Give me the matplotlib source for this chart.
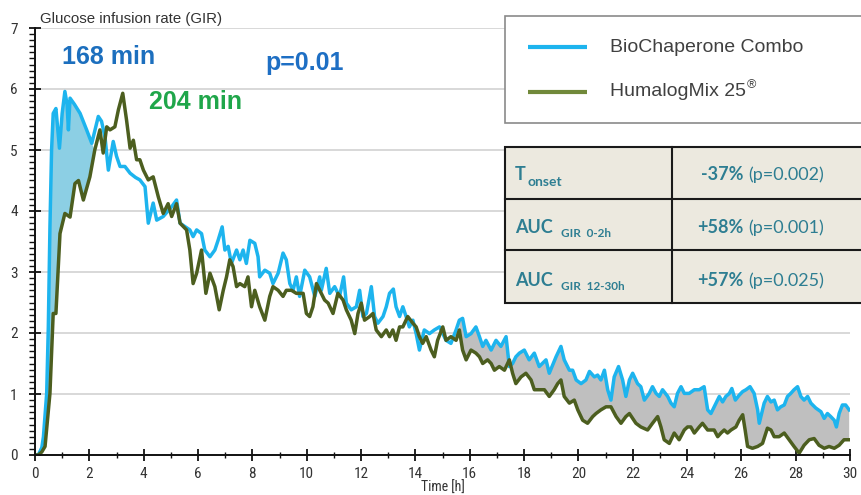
import matplotlib
matplotlib.use("Agg")
import matplotlib.pyplot as plt
from matplotlib.patches import Rectangle
from matplotlib.ticker import MultipleLocator
import numpy as np

# ---------------- data (time [h], GIR) ----------------
bio_points = [
    (0.00, 0.00), (0.12, 0.00), (0.25, 0.12), (0.31, 0.30), (0.43, 1.01), (0.49, 2.10), (0.55, 3.74), (0.61, 5.00), (0.67, 5.60), (0.77, 5.68),
    (0.90, 5.03), (1.00, 5.60), (1.10, 5.96), (1.18, 5.75), (1.23, 5.33), (1.29, 5.85), (1.45, 5.75), (1.66, 5.60), (1.90, 5.33), (2.09, 5.11),
    (2.33, 5.55), (2.45, 5.47), (2.58, 5.20), (2.70, 4.67), (2.88, 5.14), (3.00, 4.90), (3.13, 4.73), (3.31, 4.73), (3.50, 4.62), (3.70, 4.55),
    (3.86, 4.51), (4.05, 4.40), (4.17, 3.80), (4.35, 4.13), (4.48, 3.85), (4.72, 3.91), (5.03, 4.07), (5.21, 4.18), (5.34, 3.80), (5.50, 3.75),
    (5.70, 3.69), (5.82, 3.58), (5.95, 3.69), (6.13, 3.63), (6.25, 3.36), (6.44, 3.25), (6.62, 3.36), (6.74, 3.52), (6.89, 3.74), (6.99, 3.36),
    (7.11, 3.42), (7.23, 3.14), (7.42, 3.36), (7.54, 3.20), (7.66, 3.36), (7.78, 3.14), (7.91, 3.52), (8.09, 3.47), (8.21, 3.25), (8.27, 2.92),
    (8.46, 3.03), (8.64, 2.98), (8.76, 2.81), (8.95, 2.98), (9.13, 3.31), (9.25, 3.20), (9.38, 2.81), (9.50, 2.70), (9.62, 2.92), (9.74, 2.60),
    (9.93, 3.03), (10.11, 2.92), (10.30, 2.60), (10.48, 2.92), (10.54, 2.70), (10.72, 3.06), (10.85, 2.65), (11.03, 2.76), (11.21, 2.60), (11.36, 2.92),
    (11.46, 2.49), (11.64, 2.38), (11.83, 2.43), (11.95, 2.70), (12.07, 2.27), (12.20, 2.32), (12.38, 2.76), (12.50, 2.27), (12.62, 2.16), (12.81, 2.27),
    (12.93, 2.43), (13.05, 2.65), (13.19, 2.72), (13.29, 2.43), (13.42, 2.27), (13.54, 2.43), (13.66, 2.27), (13.78, 2.10), (13.91, 2.21), (14.03, 1.99),
    (14.15, 1.72), (14.33, 2.05), (14.52, 1.99), (14.70, 2.05), (14.89, 2.10), (15.01, 1.99), (15.13, 1.88), (15.31, 1.83), (15.50, 2.05), (15.62, 2.21),
    (15.74, 2.24), (15.87, 1.94), (16.05, 1.99), (16.23, 2.10), (16.36, 1.94), (16.48, 1.78), (16.60, 1.88), (16.79, 1.72), (16.97, 1.88), (17.15, 1.78),
    (17.34, 1.94), (17.46, 1.45), (17.58, 1.50), (17.70, 1.61), (17.83, 1.67), (18.01, 1.72), (18.19, 1.56), (18.38, 1.67), (18.56, 1.45), (18.81, 1.56),
    (18.93, 1.34), (19.18, 1.61), (19.36, 1.78), (19.48, 1.56), (19.67, 1.39), (19.79, 1.39), (19.92, 1.23), (20.10, 1.17), (20.28, 1.23), (20.41, 1.37),
    (20.59, 1.28), (20.71, 1.31), (20.83, 1.23), (20.96, 1.39), (21.08, 1.07), (21.20, 0.90), (21.32, 1.28), (21.48, 1.45), (21.63, 1.23), (21.75, 0.96),
    (21.88, 1.23), (22.00, 1.34), (22.18, 1.17), (22.30, 1.12), (22.43, 0.90), (22.61, 1.01), (22.73, 1.12), (22.86, 1.01), (22.98, 0.96), (23.10, 1.07),
    (23.29, 0.96), (23.41, 0.85), (23.53, 0.79), (23.65, 1.01), (23.78, 1.12), (23.90, 1.01), (24.08, 1.01), (24.27, 1.07), (24.45, 1.07), (24.63, 1.12),
    (24.76, 0.74), (24.88, 0.68), (25.07, 0.85), (25.19, 0.96), (25.31, 0.87), (25.43, 0.96), (25.56, 1.01), (25.65, 1.09), (25.78, 0.90), (25.92, 0.98),
    (26.05, 1.04), (26.17, 1.07), (26.32, 1.12), (26.47, 1.01), (26.60, 0.74), (26.66, 0.52), (26.84, 0.85), (26.96, 0.96), (27.09, 0.87), (27.21, 0.90),
    (27.33, 0.74), (27.45, 0.79), (27.58, 0.82), (27.70, 0.96), (27.82, 1.01), (27.94, 1.07), (28.07, 1.12), (28.19, 0.96), (28.31, 0.90), (28.44, 0.96),
    (28.56, 0.85), (28.74, 0.77), (28.93, 0.71), (29.05, 0.60), (29.17, 0.68), (29.29, 0.63), (29.42, 0.57), (29.50, 0.46), (29.60, 0.68), (29.72, 0.82),
    (29.84, 0.82), (29.97, 0.74),
]

hum_points = [
    (0.00, 0.00), (0.12, 0.00), (0.25, 0.05), (0.37, 0.14), (0.55, 1.01), (0.67, 2.32), (0.77, 2.32), (0.92, 3.63), (1.10, 3.96), (1.29, 3.90),
    (1.47, 4.45), (1.60, 4.50), (1.78, 4.18), (2.02, 4.56), (2.20, 5.00), (2.39, 5.33), (2.51, 4.95), (2.64, 5.38), (2.76, 5.33), (2.94, 5.38),
    (3.07, 5.66), (3.23, 5.93), (3.37, 5.49), (3.50, 5.03), (3.62, 5.16), (3.74, 4.84), (3.86, 4.84), (3.99, 4.67), (4.17, 4.51), (4.35, 4.56),
    (4.54, 4.23), (4.72, 3.96), (4.90, 4.12), (5.03, 3.91), (5.21, 4.12), (5.34, 3.80), (5.58, 3.69), (5.70, 3.36), (5.82, 2.81), (5.95, 2.98),
    (6.13, 3.36), (6.29, 2.65), (6.44, 2.98), (6.62, 2.76), (6.78, 2.38), (6.93, 2.70), (7.05, 2.92), (7.17, 3.20), (7.29, 3.09), (7.42, 2.76),
    (7.54, 2.81), (7.72, 2.76), (7.84, 2.92), (7.97, 2.43), (8.09, 2.70), (8.27, 2.43), (8.46, 2.21), (8.64, 2.60), (8.76, 2.76), (8.95, 2.70),
    (9.13, 2.60), (9.25, 2.70), (9.44, 2.70), (9.62, 2.65), (9.87, 2.65), (9.99, 2.32), (10.11, 2.27), (10.23, 2.43), (10.36, 2.81), (10.54, 2.65),
    (10.66, 2.54), (10.79, 2.49), (10.97, 2.32), (11.15, 2.65), (11.34, 2.54), (11.46, 2.38), (11.64, 2.21), (11.77, 1.99), (11.89, 2.32), (12.01, 2.49),
    (12.13, 2.21), (12.32, 2.27), (12.44, 2.32), (12.56, 2.05), (12.75, 1.94), (12.93, 2.05), (13.05, 1.94), (13.17, 2.05), (13.29, 1.88), (13.42, 2.10),
    (13.54, 2.10), (13.72, 2.27), (13.91, 2.16), (14.03, 2.10), (14.15, 1.94), (14.27, 1.83), (14.40, 1.94), (14.58, 1.72), (14.70, 1.61), (14.82, 1.88),
    (15.01, 2.10), (15.13, 1.88), (15.31, 1.94), (15.50, 1.88), (15.62, 2.05), (15.74, 1.72), (15.87, 1.56), (16.05, 1.72), (16.23, 1.67), (16.36, 1.61),
    (16.48, 1.50), (16.66, 1.56), (16.79, 1.50), (16.91, 1.39), (17.09, 1.45), (17.28, 1.39), (17.46, 1.56), (17.58, 1.34), (17.70, 1.17), (17.89, 1.28),
    (18.07, 1.34), (18.26, 1.23), (18.38, 1.07), (18.56, 1.07), (18.75, 1.07), (18.93, 0.96), (19.11, 1.07), (19.24, 1.17), (19.36, 1.23), (19.48, 0.96),
    (19.67, 0.85), (19.85, 0.90), (19.98, 0.74), (20.16, 0.57), (20.34, 0.52), (20.53, 0.63), (20.65, 0.68), (20.83, 0.74), (21.02, 0.79), (21.20, 0.79),
    (21.39, 0.63), (21.57, 0.52), (21.75, 0.63), (21.88, 0.68), (22.00, 0.60), (22.12, 0.52), (22.30, 0.46), (22.55, 0.41), (22.73, 0.52), (22.92, 0.63),
    (23.04, 0.46), (23.16, 0.25), (23.35, 0.19), (23.53, 0.36), (23.71, 0.25), (23.90, 0.41), (24.02, 0.46), (24.14, 0.46), (24.27, 0.36), (24.45, 0.46),
    (24.57, 0.52), (24.76, 0.41), (25.00, 0.41), (25.13, 0.30), (25.25, 0.36), (25.37, 0.41), (25.49, 0.36), (25.62, 0.41), (25.80, 0.46), (25.92, 0.57),
    (26.05, 0.66), (26.14, 0.41), (26.23, 0.14), (26.41, 0.11), (26.60, 0.14), (26.78, 0.19), (26.96, 0.44), (27.09, 0.41), (27.21, 0.30), (27.39, 0.30),
    (27.58, 0.36), (27.76, 0.25), (27.94, 0.14), (28.13, 0.03), (28.31, 0.16), (28.50, 0.25), (28.68, 0.27), (28.86, 0.16), (29.05, 0.11), (29.23, 0.14),
    (29.42, 0.11), (29.60, 0.16), (29.78, 0.25), (29.97, 0.25),
]

series_names = ["BioChaperone Combo", "HumalogMix 25"]
early_fill_range = (0.0, 2.3)    # BioChaperone > Humalog (blue shading)
late_fill_range = (15.6, 30.0)   # BioChaperone > Humalog (grey shading)
x_ticks = list(range(0, 31, 2))
y_ticks = list(range(0, 8))
table_rows = [("T", "onset", "-37%", "(p=0.002)"),
              ("AUC", "GIR  0-2h", "+58%", "(p=0.001)"),
              ("AUC", "GIR  12-30h", "+57%", "(p=0.025)")]

t_bio, g_bio = map(np.array, zip(*bio_points))
t_hum, g_hum = map(np.array, zip(*hum_points))

# ---------------- figure ----------------
W, H = 861, 495
fig = plt.figure(figsize=(W / 100, H / 100), dpi=100)
fig.patch.set_facecolor("white")
ax = fig.add_axes([35 / W, 1 - 455 / H, (850 - 35) / W, (455 - 28) / H])
ax.set_xlim(0, 30)
ax.set_ylim(0, 7)

BLUE = "#1db4ee"
GREEN = "#4c5e1f"

def band(lo, hi):
    mb = (t_bio >= lo) & (t_bio <= hi)
    mh = (t_hum >= lo) & (t_hum <= hi)
    xs = np.concatenate([t_bio[mb], t_hum[mh][::-1]])
    ys = np.concatenate([g_bio[mb], g_hum[mh][::-1]])
    return xs, ys

xs, ys = band(*early_fill_range)
ax.fill(xs, ys, color="#8ccfe4", lw=0, zorder=1)
xs, ys = band(*late_fill_range)
ax.fill(xs, ys, color="#bfbfbf", lw=0, zorder=1)

ax.plot(t_bio, g_bio, color=BLUE, lw=2.5, zorder=3, solid_joinstyle="round")
ax.plot(t_hum, g_hum, color=GREEN, lw=2.5, zorder=4, solid_joinstyle="round")

ax.yaxis.grid(True, color="#d2d2d2", lw=1.2)
ax.set_axisbelow(True)
for s in ("top", "right"):
    ax.spines[s].set_visible(False)
for s in ("left", "bottom"):
    ax.spines[s].set_linewidth(1.4)
    ax.spines[s].set_color("#111111")
    ax.spines[s].set_zorder(5)

ax.set_xticks(x_ticks)
ax.set_yticks(y_ticks)
ax.xaxis.set_minor_locator(MultipleLocator(1))
ax.yaxis.set_minor_locator(MultipleLocator(0.1))
tick_font = ["Liberation Sans Narrow", "Roboto Condensed", "Liberation Sans", "DejaVu Sans"]
ax.tick_params(which="major", direction="inout", length=9, width=1.3, colors="#111111",
               labelcolor="#333333", labelsize=11, pad=4)
ax.tick_params(axis="y", which="minor", direction="out", length=4, width=1.0, colors="#111111")
ax.tick_params(axis="x", which="minor", direction="inout", length=5, width=1.0, colors="#111111")
for lab in ax.get_xticklabels() + ax.get_yticklabels():
    lab.set_fontfamily(tick_font)
ax.tick_params(axis="y", pad=8)

# ---------------- overlay in pixel coordinates ----------------
ov = fig.add_axes([0, 0, 1, 1])
ov.set_xlim(0, W)
ov.set_ylim(H, 0)
ov.axis("off")

txt_font = ["Liberation Sans", "DejaVu Sans"]
ov.text(40, 19, "Glucose infusion rate (GIR)", fontsize=10.8, color="#333333",
        family=txt_font, va="center", ha="left")
ov.text(443, 488, "Time [h]", fontsize=10, color="#333333", family=tick_font,
        va="center", ha="center")

ov.text(62, 57, "168 min", fontsize=18, color="#1c6fbe", fontweight="bold",
        family=txt_font, va="center", ha="left")
ov.text(265, 63, "p=0.01", fontsize=18, color="#1e6fc4", fontweight="bold",
        family=txt_font, va="center", ha="left")
ov.text(149, 102, "204 min", fontsize=18, color="#1fa64a", fontweight="bold",
        family=txt_font, va="center", ha="left")

# legend box
ov.add_patch(Rectangle((505, 16), 380, 107, facecolor="white", edgecolor="#8a8a8a", lw=1.2))
ov.plot([528, 587], [47, 47], color=BLUE, lw=3, solid_capstyle="butt")
ov.plot([528, 587], [92, 92], color="#71893a", lw=3, solid_capstyle="butt")
ov.text(610, 47, series_names[0], fontsize=14, color="#404040", family=txt_font,
        va="center", ha="left")
hm = ov.text(610, 92, series_names[1], fontsize=14, color="#404040", family=txt_font,
             va="center", ha="left")
fig.canvas.draw()
bb = hm.get_window_extent(renderer=fig.canvas.get_renderer())
ov.text(bb.x1 + 1, 85, "®", fontsize=9, color="#404040", family=txt_font, va="center", ha="left")

# table
TEAL = "#2e7e92"
tab_font = ["Lato", "DejaVu Sans"]
ov.add_patch(Rectangle((505, 147), 380, 156, facecolor="#ece9df", edgecolor="#1a1a1a", lw=1.5))
for yy in (199, 250):
    ov.plot([505, W + 5], [yy, yy], color="#1a1a1a", lw=1.5)
ov.plot([672, 672], [147, 303], color="#1a1a1a", lw=1.5)

row_base = [180, 233, 286]
for (main, sub, pct, pval), yb in zip(table_rows, row_base):
    ov.text(515, yb, main, fontsize=13, fontweight="bold", color=TEAL,
            family=tab_font, va="baseline", ha="left")
    if main == "T":
        ov.text(527, yb + 6, sub, fontsize=10, fontweight="bold", color=TEAL,
                family=tab_font, va="baseline", ha="left")
    else:
        ov.text(561, yb + 4, sub, fontsize=8.5, fontweight="bold", color=TEAL,
                family=tab_font, va="baseline", ha="left")
    ov.text(743, yb, pct, fontsize=13, fontweight="bold", color=TEAL,
            family=tab_font, va="baseline", ha="right")
    ov.text(748, yb, pval, fontsize=13, color=TEAL,
            family=tab_font, va="baseline", ha="left")

fig.savefig("out.png", dpi=100)
